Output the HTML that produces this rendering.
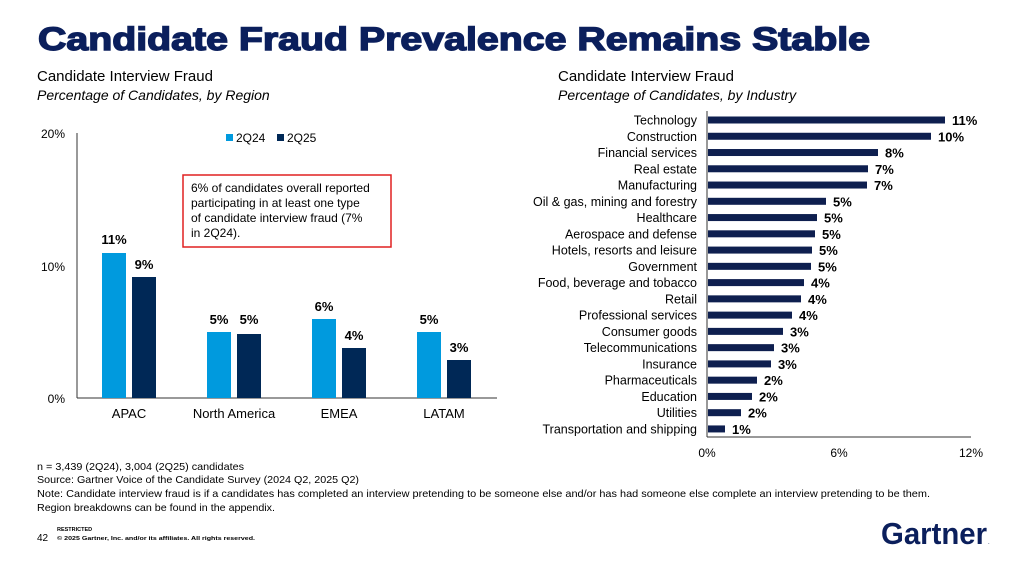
<!DOCTYPE html>
<html><head><meta charset="utf-8"><style>
html,body{margin:0;padding:0;background:#fff}
svg{display:block;font-family:"Liberation Sans",Arial,sans-serif}
</style></head><body>
<svg width="1022" height="568" viewBox="0 0 1022 568" xmlns="http://www.w3.org/2000/svg">
<rect width="1022" height="568" fill="#fff"/>
<text x="38" y="50" font-size="32" font-weight="bold" fill="#0b1f5c" stroke="#0b1f5c" stroke-width="1.4" textLength="832" lengthAdjust="spacingAndGlyphs">Candidate Fraud Prevalence Remains Stable</text>
<text x="37" y="81" font-size="15" fill="#000">Candidate Interview Fraud</text>
<text x="37" y="100" font-size="14" font-style="italic" fill="#000">Percentage of Candidates, by Region</text>
<text x="558" y="81" font-size="15" fill="#000">Candidate Interview Fraud</text>
<text x="558" y="100" font-size="14" font-style="italic" fill="#000">Percentage of Candidates, by Industry</text>

<g font-size="12">
<text x="65" y="138" text-anchor="end">20%</text>
<text x="65" y="271" text-anchor="end">10%</text>
<text x="65" y="403" text-anchor="end">0%</text>
</g>
<line x1="77" y1="133" x2="77" y2="398" stroke="#333" stroke-width="1"/>
<line x1="77" y1="398" x2="497" y2="398" stroke="#333" stroke-width="1"/>
<rect x="226" y="134" width="7" height="7" fill="#009ade"/>
<text x="236" y="142" font-size="12">2Q24</text>
<rect x="277" y="134" width="7" height="7" fill="#002856"/>
<text x="287" y="142" font-size="12">2Q25</text>
<rect x="183" y="175" width="208" height="72" fill="none" stroke="#e02020" stroke-width="1.5"/>
<g font-size="12"><text x="191" y="192">6% of candidates overall reported</text>
<text x="191" y="207">participating in at least one type</text>
<text x="191" y="222">of candidate interview fraud (7%</text>
<text x="191" y="237">in 2Q24).</text></g>
<g fill="#009ade">
<rect x="102" y="253" width="24" height="145"/><rect x="207" y="332" width="24" height="66"/>
<rect x="312" y="319" width="24" height="79"/><rect x="417" y="332" width="24" height="66"/></g>
<g fill="#002856">
<rect x="132" y="277" width="24" height="121"/><rect x="237" y="334" width="24" height="64"/>
<rect x="342" y="348" width="24" height="50"/><rect x="447" y="360" width="24" height="38"/></g>
<g font-size="13" font-weight="bold" text-anchor="middle">
<text x="114" y="244">11%</text><text x="144" y="269">9%</text>
<text x="219" y="324">5%</text><text x="249" y="324">5%</text>
<text x="324" y="311">6%</text><text x="354" y="340">4%</text>
<text x="429" y="324">5%</text><text x="459" y="352">3%</text></g>
<g font-size="13" text-anchor="middle">
<text x="129" y="418">APAC</text><text x="234" y="418">North America</text>
<text x="339" y="418">EMEA</text><text x="444" y="418">LATAM</text></g>

<line x1="707" y1="111" x2="707" y2="437" stroke="#333"/>
<line x1="707" y1="437" x2="971" y2="437" stroke="#333"/>
<g font-size="12.5" text-anchor="end" id="lbl"></g>
<g font-size="12">
<text x="707" y="457" text-anchor="middle">0%</text>
<text x="839" y="457" text-anchor="middle">6%</text>
<text x="971" y="457" text-anchor="middle">12%</text></g>
<g id="bars"></g>

<g font-size="10.5" fill="#000">
<text x="37" y="470" textLength="207" lengthAdjust="spacingAndGlyphs">n = 3,439 (2Q24), 3,004 (2Q25) candidates</text>
<text x="37" y="483" textLength="322" lengthAdjust="spacingAndGlyphs">Source: Gartner Voice of the Candidate Survey (2024 Q2, 2025 Q2)</text>
<text x="37" y="497" textLength="893" lengthAdjust="spacingAndGlyphs">Note: Candidate interview fraud is if a candidates has completed an interview pretending to be someone else and/or has had someone else complete an interview pretending to be them.</text>
<text x="37" y="511" textLength="238" lengthAdjust="spacingAndGlyphs">Region breakdowns can be found in the appendix.</text>
</g>
<text x="57" y="531" font-size="5.5" font-weight="bold">RESTRICTED</text>
<text x="37" y="541" font-size="10">42</text>
<text x="57" y="540" font-size="5.5" font-weight="bold" textLength="198" lengthAdjust="spacingAndGlyphs">© 2025 Gartner, Inc. and/or its affiliates. All rights reserved.</text>
<text x="881" y="544" font-size="31" font-weight="bold" fill="#0b1f5c" textLength="106" lengthAdjust="spacingAndGlyphs">Gartner</text>
<text x="988" y="544" font-size="6" fill="#0b1f5c">.</text>
</svg>
<script>
var d=[["Technology",945,"11%"],["Construction",931,"10%"],["Financial services",878,"8%"],["Real estate",868,"7%"],["Manufacturing",867,"7%"],["Oil & gas, mining and forestry",826,"5%"],["Healthcare",817,"5%"],["Aerospace and defense",815,"5%"],["Hotels, resorts and leisure",812,"5%"],["Government",811,"5%"],["Food, beverage and tobacco",804,"4%"],["Retail",801,"4%"],["Professional services",792,"4%"],["Consumer goods",783,"3%"],["Telecommunications",774,"3%"],["Insurance",771,"3%"],["Pharmaceuticals",757,"2%"],["Education",752,"2%"],["Utilities",741,"2%"],["Transportation and shipping",725,"1%"]];
var ns="http://www.w3.org/2000/svg",L=document.getElementById("lbl"),B=document.getElementById("bars");
d.forEach(function(r,i){var y=120+i*16.26;
var t=document.createElementNS(ns,"text");t.setAttribute("x",697);t.setAttribute("y",y+4.5);t.textContent=r[0];L.appendChild(t);
var b=document.createElementNS(ns,"rect");b.setAttribute("x",708);b.setAttribute("y",y-3.5);b.setAttribute("width",r[1]-708);b.setAttribute("height",7);b.setAttribute("fill","#0e1f4f");B.appendChild(b);
var v=document.createElementNS(ns,"text");v.setAttribute("x",r[1]+7);v.setAttribute("y",y+5);v.setAttribute("font-size","13");v.setAttribute("font-weight","bold");v.textContent=r[2];B.appendChild(v);});
</script>
</body></html>
